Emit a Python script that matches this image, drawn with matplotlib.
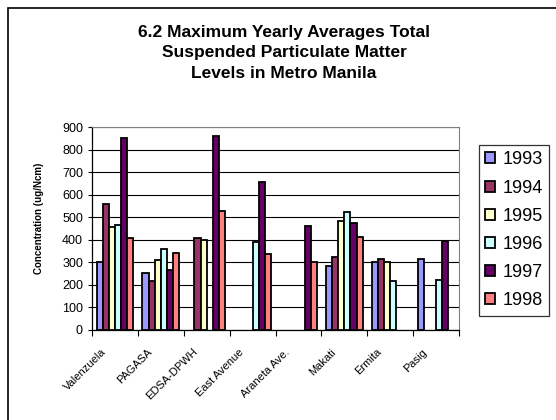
import numpy as np
import matplotlib
matplotlib.use("Agg")
import matplotlib.pyplot as plt
from matplotlib.patches import Rectangle
from matplotlib.transforms import ScaledTranslation

plt.rcParams['font.family'] = ['Liberation Sans', 'DejaVu Sans']

sites = ['Valenzuela', 'PAGASA', 'EDSA-DPWH', 'East Avenue', 'Araneta Ave.',
         'Makati', 'Ermita', 'Pasig']
years = ['1993', '1994', '1995', '1996', '1997', '1998']
nan = np.nan
v1993 = [300, 251, nan, nan, nan, 285, 300, 316]
v1994 = [558, 217, 410, nan, nan, 325, 315, nan]
v1995 = [456, 311, 400, nan, nan, 485, 300, nan]
v1996 = [466, 358, nan, 388, nan, 521, 217, 222]
v1997 = [851, 266, 858, 655, 463, 476, nan, 393]
v1998 = [407, 340, 528, 336, 303, 414, nan, nan]
series = [v1993, v1994, v1995, v1996, v1997, v1998]
colors = ['#9999FF', '#993366', '#FFFFCC', '#CCFFFF', '#660066', '#FF8080']

fig = plt.figure(figsize=(5.56, 4.2), dpi=100)
# chart area border (runs off the right and bottom edges)
fig.patches.append(Rectangle((8 / 556, -0.1), 1.2, 1.1 - 8 / 420,
                             transform=fig.transFigure, fill=False,
                             edgecolor='black', linewidth=1.2))

ax = fig.add_axes([92 / 556, 1 - 330 / 420, 367 / 556, 203 / 420])

x = np.arange(len(sites))
w = 1 / 7.5
for j, (vals, c, yr) in enumerate(zip(series, colors, years)):
    ax.bar(x + (j - 2.5) * w, vals, width=w, color=c, edgecolor='black',
           linewidth=1.3, label=yr, zorder=3)

ax.set_xlim(-0.5, len(sites) - 0.5)
ax.set_ylim(0, 900)
ax.set_yticks(range(0, 901, 100))
ax.yaxis.grid(True, color='black', linewidth=0.8, zorder=0)
ax.tick_params(axis='y', labelsize=9, length=3, direction='out', width=0.8)

ax.set_xticks(x)
ax.set_xticks(np.arange(-0.5, len(sites), 1), minor=True)
ax.tick_params(axis='x', which='major', length=0)
ax.tick_params(axis='x', which='minor', length=4, width=0.8, direction='out')
ax.set_xticklabels(sites, rotation=45, ha='right', rotation_mode='anchor',
                   fontsize=8)
off = ScaledTranslation(-14 / 100, -12 / 100, fig.dpi_scale_trans)
for lab in ax.get_xticklabels():
    lab.set_transform(lab.get_transform() + off)

for s in ['top', 'right']:
    ax.spines[s].set_color('#808080')
for s in ['left', 'bottom']:
    ax.spines[s].set_color('black')
    ax.spines[s].set_linewidth(0.9)

ax.set_ylabel('Concentration (ug/Ncm)', fontsize=7, fontweight='bold',
              va='center')
ax.yaxis.set_label_coords(-0.144, 0.55)

fig.text(284 / 556, 1 - 53 / 420,
         '6.2 Maximum Yearly Averages Total\nSuspended Particulate Matter\nLevels in Metro Manila',
         ha='center', va='center', fontsize=12.5, fontweight='bold',
         linespacing=1.42)

leg = fig.legend(loc='upper left', bbox_to_anchor=(479 / 556, 1 - 145 / 420),
                 fontsize=13, frameon=True, fancybox=False, handlelength=0.55,
                 handleheight=0.55, handletextpad=0.4, labelspacing=0.62,
                 borderpad=0.35, borderaxespad=0)
leg.get_frame().set_edgecolor('black')
leg.get_frame().set_linewidth(0.9)

fig.savefig('out.png', dpi=100)
